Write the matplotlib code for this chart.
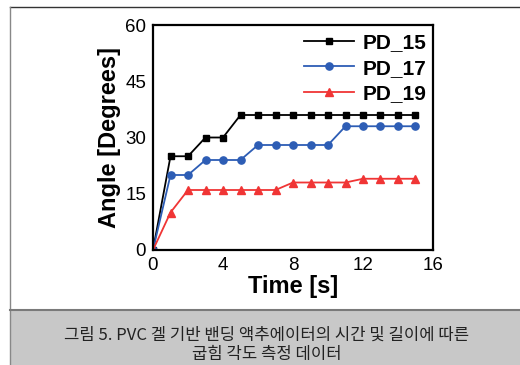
import matplotlib
matplotlib.use('Agg')
import matplotlib.pyplot as plt
from matplotlib.patches import Rectangle
from matplotlib.lines import Line2D

plt.rcParams['font.family'] = ['Liberation Sans', 'DejaVu Sans']

# data
time_s = [0, 1, 2, 3, 4, 5, 6, 7, 8, 9, 10, 11, 12, 13, 14, 15]
pd_15 = [0, 25, 25, 30, 30, 36, 36, 36, 36, 36, 36, 36, 36, 36, 36, 36]
pd_17 = [0, 20, 20, 24, 24, 24, 28, 28, 28, 28, 28, 33, 33, 33, 33, 33]
pd_19 = [0, 10, 16, 16, 16, 16, 16, 16, 18, 18, 18, 18, 19, 19, 19, 19]

series = [('PD_15', pd_15, 'black', 's', 5.0),
          ('PD_17', pd_17, '#2d5db5', 'o', 5.2),
          ('PD_19', pd_19, '#f03535', '^', 6.0)]

xticks = [0, 4, 8, 12, 16]
yticks = [0, 15, 30, 45, 60]

caption_lines = ['그림 5. PVC 겔 기반 밴딩 액추에이터의 시간 및 길이에 따른',
                 '굽힘 각도 측정 데이터']

W, H = 520, 365
fig = plt.figure(figsize=(W / 100, H / 100), dpi=100)

# page frame lines and caption box
fig.add_artist(Line2D([10 / W, 1], [1 - 7 / H, 1 - 7 / H], color='#333333', lw=1.0))
fig.add_artist(Line2D([10 / W, 10 / W], [0, 1 - 7 / H], color='#888888', lw=1.0))
fig.add_artist(Rectangle((10 / W, 0), 1 - 10 / W, (H - 310) / H, facecolor='#c8c8c8',
                         edgecolor='none'))
fig.add_artist(Line2D([10 / W, 1], [(H - 310) / H, (H - 310) / H], color='#7a7a7a', lw=1.5))
for line, ypx in zip(caption_lines, [335, 354]):
    fig.text(267 / W, 1 - ypx / H, line, ha='center', va='center', fontsize=12,
             color='#222222', family=['Noto Sans CJK KR', 'DejaVu Sans'])

ax = fig.add_axes([153 / W, 1 - 250 / H, 280 / W, 225 / H])
for name, vals, col, mk, ms in series:
    ax.plot(time_s, vals, color=col, marker=mk, markersize=ms, lw=1.3, label=name)

ax.set_xlim(0, 16)
ax.set_ylim(0, 60)
ax.set_xticks(xticks)
ax.set_yticks(yticks)
ax.tick_params(length=0, labelsize=13.5, pad=5)
for sp in ax.spines.values():
    sp.set_linewidth(1.6)
ax.set_xlabel('Time [s]', fontsize=17, fontweight='bold', labelpad=1)
ax.set_ylabel('Angle [Degrees]', fontsize=17, fontweight='bold', labelpad=3)

leg = ax.legend(loc='upper right', bbox_to_anchor=(1.005, 1.0), frameon=False,
                handlelength=2.4, labelspacing=0.3, handletextpad=0.4,
                borderaxespad=0, prop={'size': 15, 'weight': 'bold'})

fig.savefig('out.png', dpi=100)
